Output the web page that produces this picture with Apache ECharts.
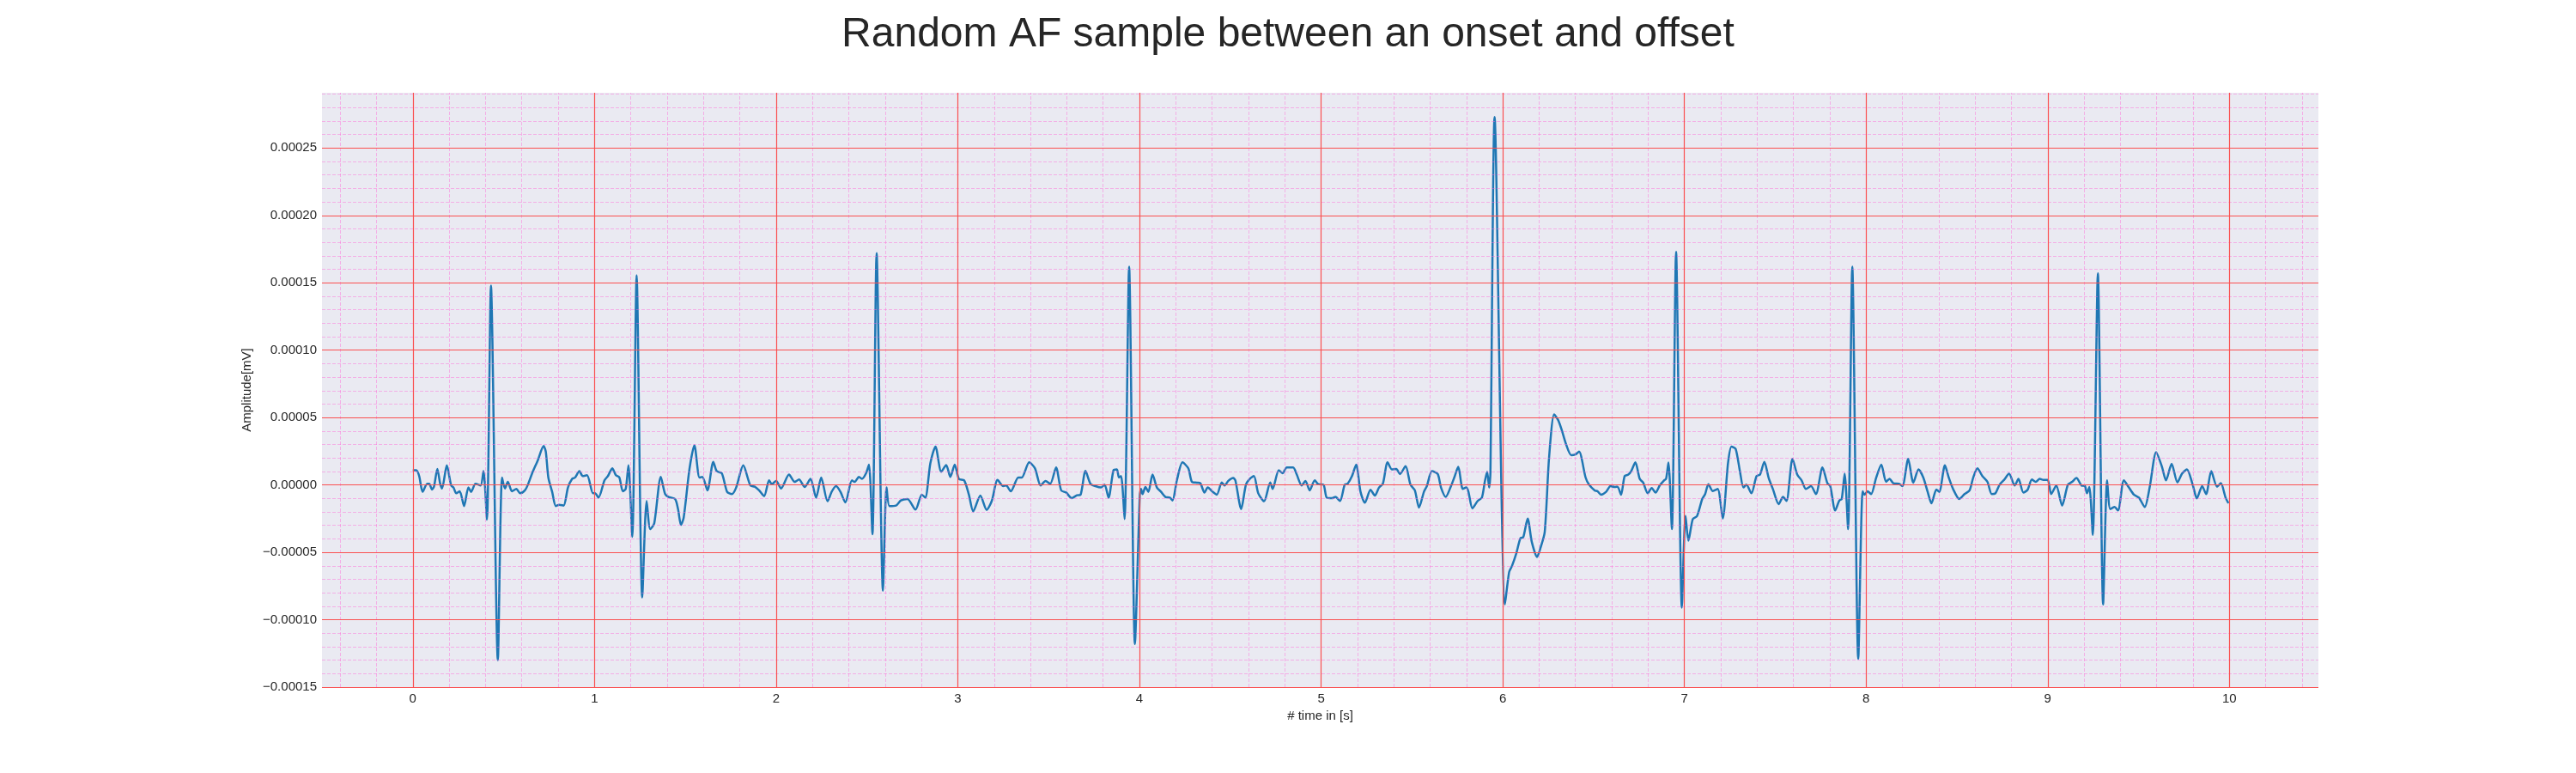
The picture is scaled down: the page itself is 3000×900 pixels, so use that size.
<!DOCTYPE html>
<html>
<head>
<meta charset="utf-8">
<title>Random AF sample between an onset and offset</title>
<script src="https://cdn.jsdelivr.net/npm/echarts@6/dist/echarts.min.js"></script>
<style>
  html, body { margin: 0; padding: 0; background: #ffffff; }
  #chart { width: 3000px; height: 900px; }
</style>
</head>
<body>
<div id="chart"></div>
<script>
// sample time in seconds
const timeS = [
  0.000, 0.019, 0.035, 0.054, 0.079, 0.090, 0.106, 0.117, 0.135, 0.150, 0.161, 0.187, 0.211, 0.224, 0.239, 0.258,
  0.282, 0.306, 0.321, 0.345, 0.373, 0.389, 0.408, 0.430, 0.468, 0.491, 0.507, 0.523, 0.546, 0.570, 0.591, 0.617,
  0.633, 0.657, 0.688, 0.720, 0.732, 0.746, 0.767, 0.787, 0.806, 0.830, 0.854, 0.877, 0.893, 0.917, 0.935, 0.959,
  0.992, 1.003, 1.022, 1.055, 1.074, 1.098, 1.118, 1.137, 1.156, 1.172, 1.187, 1.208, 1.232, 1.263, 1.287, 1.307,
  1.329, 1.365, 1.389, 1.408, 1.444, 1.460, 1.476, 1.491, 1.523, 1.550, 1.578, 1.594, 1.622,
  1.654, 1.673, 1.701, 1.730, 1.756, 1.780, 1.819, 1.858, 1.882, 1.906, 1.934, 1.961, 1.976, 2.000, 2.027, 2.071,
  2.102, 2.126, 2.157, 2.189, 2.220, 2.248, 2.283, 2.307, 2.330, 2.354, 2.381, 2.417, 2.432, 2.456, 2.472, 2.495,
  2.511, 2.530, 2.553, 2.588, 2.608, 2.624, 2.660, 2.687, 2.723, 2.767, 2.802, 2.821, 2.849, 2.877, 2.909, 2.936,
  2.959, 2.983, 3.006, 3.035, 3.061, 3.085, 3.124, 3.159, 3.187, 3.219, 3.250, 3.266, 3.292,
  3.333, 3.352, 3.393, 3.425, 3.456, 3.483, 3.509, 3.541, 3.569, 3.597, 3.627, 3.656, 3.676, 3.703, 3.730, 3.758,
  3.789, 3.808, 3.830, 3.857, 3.876, 3.887, 3.899, 3.918, 3.943, 3.975, 4.002, 4.009, 4.017, 4.033, 4.049, 4.072,
  4.096, 4.119, 4.143, 4.167, 4.182, 4.206, 4.237, 4.269, 4.289, 4.316, 4.335, 4.358, 4.376, 4.403, 4.426, 4.453,
  4.469, 4.489, 4.516, 4.528, 4.560, 4.586, 4.607, 4.630, 4.654, 4.686, 4.720, 4.733, 4.767, 4.788, 4.811, 4.846,
  4.866, 4.893, 4.914, 4.937, 4.965, 4.984,
  5.013, 5.031, 5.060, 5.079, 5.104, 5.130, 5.146, 5.170, 5.193, 5.217, 5.241, 5.272, 5.296, 5.319, 5.340, 5.366,
  5.390, 5.414, 5.434, 5.465, 5.492, 5.516, 5.539, 5.566, 5.582, 5.610, 5.642, 5.660, 5.686, 5.712, 5.733, 5.755,
  5.780, 5.799, 5.811, 5.833, 5.862, 5.885, 5.901, 5.914, 5.925, 5.932, 5.955, 6.012, 6.035, 6.050, 6.074, 6.097,
  6.113, 6.137, 6.160, 6.189, 6.208, 6.231, 6.255, 6.283, 6.305, 6.325, 6.349, 6.377, 6.399, 6.420, 6.456, 6.475,
  6.506, 6.522, 6.541, 6.569, 6.593, 6.616, 6.632, 6.651, 6.671,
  6.691, 6.707, 6.730, 6.754, 6.773, 6.798, 6.820, 6.841, 6.864, 6.888, 6.899, 6.912, 6.931, 6.954, 6.986, 7.006,
  7.022, 7.046, 7.069, 7.098, 7.114, 7.132, 7.156, 7.183, 7.211, 7.240, 7.259, 7.282, 7.306, 7.325, 7.341, 7.369,
  7.397, 7.416, 7.440, 7.464, 7.487, 7.519, 7.543, 7.562, 7.595, 7.621, 7.645, 7.669, 7.697, 7.724, 7.760, 7.787,
  7.803, 7.830, 7.853, 7.866, 7.882, 7.901, 7.924, 7.957, 7.981, 7.992, 8.008, 8.028, 8.055, 8.084, 8.110, 8.129,
  8.150, 8.181, 8.200, 8.232, 8.260, 8.289, 8.315, 8.339, 8.360,
  8.387, 8.403, 8.434, 8.455, 8.479, 8.513, 8.542, 8.570, 8.589, 8.613, 8.640, 8.668, 8.692, 8.712, 8.735, 8.760,
  8.787, 8.818, 8.839, 8.866, 8.889, 8.913, 8.934, 8.956, 8.976, 9.000, 9.019, 9.047, 9.079, 9.111, 9.134, 9.158,
  9.186, 9.205, 9.216, 9.229, 9.248, 9.276, 9.305, 9.327, 9.344, 9.367, 9.387, 9.419, 9.445, 9.474, 9.502, 9.534,
  9.561, 9.597, 9.629, 9.651, 9.682, 9.714, 9.739, 9.766, 9.798, 9.821, 9.850, 9.872, 9.900, 9.932, 9.953, 9.979,
  9.995
];

// amplitude in mV
const amplitudeMv = [
  1.09e-5, 1.09e-5, 0.66e-5, -0.51e-5, 0.09e-5, 0.09e-5, -0.34e-5, -0.10e-5, 1.19e-5, 0.13e-5, -0.26e-5, 1.45e-5, -0.04e-5, -0.19e-5, -0.62e-5, -0.47e-5,
  -1.57e-5, -0.19e-5, -0.51e-5, 0.09e-5, -0.04e-5, 1.02e-5, -2.57e-5, 14.8e-5, -13.0e-5, 0.55e-5, -0.26e-5, 0.23e-5, -0.47e-5, -0.30e-5, -0.62e-5, -0.40e-5,
  0.00e-5, 0.87e-5, 1.83e-5, 2.89e-5, 2.47e-5, 0.55e-5, -0.51e-5, -1.57e-5, -1.47e-5, -1.53e-5, -0.19e-5, 0.45e-5, 0.55e-5, 1.02e-5, 0.66e-5, 0.72e-5,
  -0.62e-5, -0.62e-5, -0.94e-5, 0.34e-5, 0.66e-5, 1.23e-5, 0.72e-5, 0.55e-5, -0.47e-5, -0.30e-5, 1.45e-5, -3.85e-5, 15.56e-5, -8.34e-5, -1.19e-5, -3.28e-5,
  -2.85e-5, 0.60e-5, -0.68e-5, -0.89e-5, -1.04e-5, -1.79e-5, -2.96e-5, -2.43e-5, 1.19e-5, 2.94e-5, 0.55e-5, 0.60e-5, -0.40e-5,
  1.72e-5, 1.02e-5, 0.87e-5, -0.51e-5, -0.68e-5, -0.19e-5, 1.45e-5, -0.04e-5, -0.13e-5, -0.40e-5, -0.83e-5, 0.34e-5, 0.06e-5, 0.30e-5, -0.26e-5, 0.77e-5,
  0.23e-5, 0.40e-5, -0.15e-5, 0.45e-5, -0.94e-5, 0.55e-5, -1.21e-5, -0.47e-5, -0.09e-5, -0.51e-5, -1.30e-5, 0.34e-5, 0.23e-5, 0.60e-5, 0.45e-5, 0.87e-5,
  1.51e-5, -3.66e-5, 17.2e-5, -7.85e-5, -0.19e-5, -1.57e-5, -1.53e-5, -1.15e-5, -1.04e-5, -1.83e-5, -0.72e-5, -0.94e-5, 1.62e-5, 2.85e-5, 0.98e-5, 1.47e-5,
  0.60e-5, 1.51e-5, 0.45e-5, 0.34e-5, -0.72e-5, -1.96e-5, -0.79e-5, -1.85e-5, -1.19e-5, 0.38e-5, -0.09e-5, -0.04e-5, -0.47e-5,
  0.55e-5, 0.55e-5, 1.68e-5, 1.23e-5, -0.04e-5, 0.30e-5, 0.09e-5, 1.30e-5, -0.40e-5, -0.57e-5, -0.98e-5, -0.77e-5, -0.72e-5, 1.04e-5, 0.09e-5, -0.09e-5,
  -0.19e-5, 0.02e-5, -0.94e-5, 1.09e-5, 1.15e-5, 0.55e-5, 0.66e-5, -2.53e-5, 16.2e-5, -11.8e-5, -0.72e-5, -0.30e-5, -0.68e-5, -0.15e-5, -0.51e-5, 0.77e-5,
  -0.19e-5, -0.51e-5, -0.89e-5, -0.94e-5, -1.15e-5, 0.34e-5, 1.68e-5, 1.23e-5, 0.23e-5, 0.17e-5, 0.13e-5, -0.57e-5, -0.19e-5, -0.51e-5, -0.72e-5, 0.19e-5,
  -0.04e-5, 0.30e-5, 0.51e-5, 0.34e-5, -1.79e-5, 0.02e-5, 0.45e-5, 0.66e-5, -0.62e-5, -1.21e-5, 0.19e-5, -0.30e-5, 1.09e-5, 0.87e-5, 1.30e-5, 1.30e-5,
  0.77e-5, -0.04e-5, 0.30e-5, -0.40e-5, 0.34e-5, 0.06e-5,
  0.02e-5, -0.94e-5, -0.98e-5, -0.89e-5, -1.19e-5, 0.02e-5, 0.09e-5, 0.66e-5, 1.51e-5, -0.51e-5, -1.32e-5, -0.36e-5, -0.79e-5, -0.19e-5, 0.09e-5, 1.68e-5,
  1.15e-5, 1.19e-5, 0.81e-5, 1.40e-5, 0.02e-5, -0.40e-5, -1.68e-5, -0.51e-5, -0.09e-5, 1.02e-5, 0.81e-5, -0.19e-5, -0.89e-5, -0.19e-5, 0.55e-5, 1.34e-5,
  -0.30e-5, -0.19e-5, -0.51e-5, -1.74e-5, -1.19e-5, -0.94e-5, 0.23e-5, 0.98e-5, -0.19e-5, 0.87e-5, 27.3e-5, -8.86e-5, -6.47e-5, -6.04e-5, -5.10e-5, -3.96e-5,
  -3.87e-5, -2.49e-5, -4.24e-5, -5.34e-5, -4.66e-5, -3.49e-5, 2.04e-5, 5.23e-5, 4.81e-5, 4.06e-5, 3.00e-5, 2.21e-5, 2.26e-5, 2.47e-5, 0.55e-5, 0.02e-5,
  -0.40e-5, -0.47e-5, -0.72e-5, -0.51e-5, -0.09e-5, -0.15e-5, -0.13e-5, -0.72e-5, 0.66e-5,
  0.77e-5, 1.02e-5, 1.68e-5, 0.45e-5, 0.17e-5, -0.62e-5, -0.23e-5, -0.57e-5, -0.04e-5, 0.34e-5, 0.45e-5, 1.66e-5, -3.28e-5, 17.3e-5, -9.1e-5, -2.28e-5,
  -4.13e-5, -2.53e-5, -2.32e-5, -1.04e-5, -0.68e-5, 0.06e-5, -0.45e-5, -0.30e-5, -2.49e-5, 1.62e-5, 2.85e-5, 2.68e-5, 0.98e-5, -0.19e-5, 0.02e-5, -0.62e-5,
  0.66e-5, 0.77e-5, 1.72e-5, 0.51e-5, -0.30e-5, -1.43e-5, -0.89e-5, -1.19e-5, 1.94e-5, 0.77e-5, 0.34e-5, -0.30e-5, -0.09e-5, -0.68e-5, 1.30e-5, 0.13e-5,
  -0.09e-5, -1.89e-5, -1.15e-5, -1.04e-5, 0.83e-5, -3.28e-5, 16.2e-5, -12.9e-5, -0.47e-5, -0.72e-5, -0.47e-5, -0.68e-5, 0.51e-5, 1.51e-5, 0.23e-5, 0.45e-5,
  0.13e-5, 0.09e-5, -0.09e-5, 1.94e-5, 0.17e-5, 1.15e-5, 0.55e-5, -0.51e-5, -1.36e-5,
  -0.34e-5, -0.51e-5, 1.45e-5, 0.55e-5, -0.30e-5, -1.04e-5, -0.68e-5, -0.40e-5, 0.51e-5, 1.23e-5, 0.66e-5, 0.23e-5, -0.68e-5, -0.62e-5, 0.02e-5, 0.38e-5,
  0.83e-5, -0.04e-5, 0.45e-5, -0.57e-5, -0.36e-5, 0.40e-5, 0.23e-5, 0.45e-5, 0.38e-5, 0.38e-5, -0.68e-5, -0.04e-5, -1.53e-5, 0.02e-5, 0.23e-5, 0.51e-5,
  -0.04e-5, -0.09e-5, -0.62e-5, -0.15e-5, -3.70e-5, 15.7e-5, -8.86e-5, 0.34e-5, -1.79e-5, -1.64e-5, -1.89e-5, 0.34e-5, -0.15e-5, -0.72e-5, -0.94e-5, -1.64e-5,
  -0.19e-5, 2.43e-5, 1.34e-5, 0.34e-5, 1.57e-5, 0.19e-5, 0.83e-5, 1.15e-5, 0.02e-5, -1.00e-5, -0.09e-5, -0.68e-5, 1.02e-5, -0.13e-5, 0.13e-5, -0.94e-5,
  -1.36e-5
];

// axis ticks
const xTicks = [0, 1, 2, 3, 4, 5, 6, 7, 8, 9, 10];
const yTicks = [-0.00015, -0.0001, -0.00005, 0, 0.00005, 0.0001, 0.00015, 0.0002, 0.00025];

const X_MIN = -0.5, X_MAX = 10.49;
const Y_MIN = -0.00015, Y_MAX = 0.000291;

const chart = echarts.init(document.getElementById('chart'));

const signal = timeS.map((t, i) => [t, amplitudeMv[i]]);

// minor grid: every 0.2 s and every 0.00001 mV
const minorX = [];
for (let k = Math.ceil(X_MIN / 0.2); k * 0.2 <= X_MAX; k++) {
  if (k % 5 !== 0) minorX.push(+(k * 0.2).toFixed(1));
}
const minorY = [];
for (let k = Math.ceil(Y_MIN / 0.00001 - 1e-6); k * 0.00001 <= Y_MAX; k++) {
  if (k % 5 !== 0) minorY.push(+(k * 0.00001).toFixed(5));
}

const font = '"Liberation Sans", Arial, "DejaVu Sans", sans-serif';
const textColor = '#262626';

function fmtY(v) {
  if (v > 0.00026) return '';
  const s = Math.abs(v).toFixed(5);
  return (v < -1e-12 ? '\u2212' : '') + s;
}

chart.setOption({
  animation: false,
  backgroundColor: '#ffffff',
  title: {
    text: 'Random AF sample between an onset and offset',
    left: 'center',
    top: 12,
    textStyle: { fontFamily: font, fontSize: 48, fontWeight: 'normal', color: textColor }
  },
  grid: {
    left: 375, right: 300, top: 108, bottom: 100,
    show: true, backgroundColor: '#eaeaf2', borderWidth: 0
  },
  xAxis: {
    type: 'value',
    min: X_MIN, max: X_MAX,
    splitNumber: 11,
    name: '# time in [s]',
    nameLocation: 'middle',
    nameGap: 24,
    nameTextStyle: { fontFamily: font, fontSize: 15, color: textColor },
    axisLine: { show: false },
    axisTick: { show: false },
    splitLine: { show: false },
    axisLabel: {
      margin: 6,
      fontFamily: font, fontSize: 15, color: textColor,
      formatter: v => (Math.abs(v - Math.round(v)) < 1e-9 ? String(Math.round(v)) : '')
    }
  },
  yAxis: {
    type: 'value',
    min: Y_MIN, max: Y_MAX,
    interval: 0.00005,
    name: 'Amplitude[mV]',
    nameLocation: 'middle',
    nameRotate: 90,
    nameGap: 62,
    nameTextStyle: { fontFamily: font, fontSize: 15, color: textColor },
    axisLine: { show: false },
    axisTick: { show: false },
    splitLine: { show: false },
    axisLabel: {
      margin: 6,
      fontFamily: font, fontSize: 15, color: textColor,
      formatter: fmtY
    }
  },
  series: [
    {
      name: 'minor grid',
      type: 'line',
      data: [],
      z: 1,
      silent: true,
      markLine: {
        silent: true,
        precision: 10,
        symbol: ['none', 'none'],
        label: { show: false },
        lineStyle: { color: 'rgba(255,105,215,0.45)', width: 1, type: [4, 2] },
        emphasis: { disabled: true },
        data: minorX.map(v => ({ xAxis: v })).concat(minorY.map(v => ({ yAxis: v })))
      }
    },
    {
      name: 'major grid',
      type: 'line',
      data: [],
      z: 2,
      silent: true,
      markLine: {
        silent: true,
        precision: 10,
        symbol: ['none', 'none'],
        label: { show: false },
        lineStyle: { color: '#fa5050', width: 1.2, type: 'solid' },
        emphasis: { disabled: true },
        data: xTicks.map(v => ({ xAxis: v })).concat(yTicks.map(v => ({ yAxis: v })))
      }
    },
    {
      name: 'ECG',
      type: 'line',
      data: signal,
      z: 3,
      showSymbol: false,
      smooth: 0.25,
      lineStyle: { color: '#1f77b4', width: 2.5 }
    }
  ]
});
</script>
</body>
</html>
